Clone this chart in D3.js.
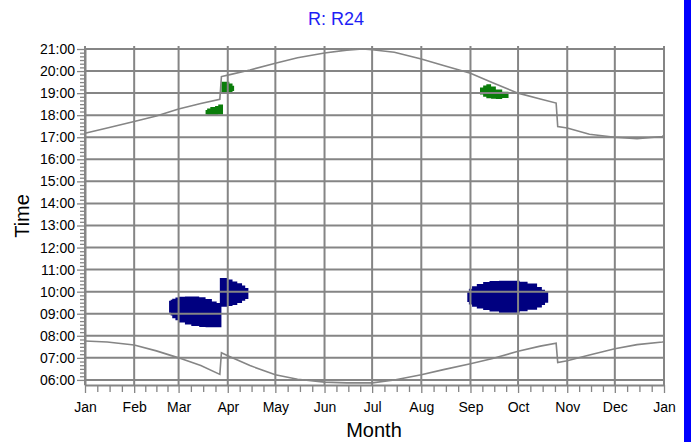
<!DOCTYPE html>
<html>
<head>
    <meta charset="utf-8">
    <title>R: R24</title>
    <script src="https://d3js.org/d3.v7.min.js"></script>
    <style type="text/css">
        body { margin: 0; background: #fff; }
        text { font-family: "Liberation Sans", Arial, sans-serif; }
    </style>
</head>
<body>
    <script type="text/javascript">
        // month tick labels, first one is Jan 1, last one Jan 1 of next year
        let monthLabels = ["Jan", "Feb", "Mar", "Apr", "May", "Jun", "Jul", "Aug", "Sep", "Oct", "Nov", "Dec", "Jan"];
        let hourTicks = [6, 7, 8, 9, 10, 11, 12, 13, 14, 15, 16, 17, 18, 19, 20, 21];

        // upper grey line (sunset) [date, time]
        let sunset = [
            ["2023-01-01", "17:11"], ["2023-01-15", "17:25"], ["2023-02-01", "17:43"], ["2023-02-15", "17:58"],
            ["2023-03-01", "18:17"], ["2023-03-15", "18:32"], ["2023-03-27", "18:43"], ["2023-03-28", "19:45"],
            ["2023-04-01", "19:49"], ["2023-04-15", "20:03"], ["2023-05-01", "20:21"], ["2023-05-15", "20:36"],
            ["2023-06-01", "20:49"], ["2023-06-15", "20:57"], ["2023-06-25", "21:00"], ["2023-07-01", "20:58"],
            ["2023-07-15", "20:51"], ["2023-08-01", "20:33"], ["2023-08-15", "20:15"], ["2023-09-01", "19:54"],
            ["2023-09-15", "19:28"], ["2023-10-01", "19:00"], ["2023-10-15", "18:44"], ["2023-10-25", "18:33"],
            ["2023-10-26", "17:29"], ["2023-11-01", "17:25"], ["2023-11-15", "17:08"], ["2023-12-01", "17:00"],
            ["2023-12-15", "16:56"], ["2023-12-31", "17:02"], ["2024-01-01", "17:05"]
        ];

        // lower grey line (sunrise) [date, time]
        let sunrise = [
            ["2023-01-01", "07:46"], ["2023-01-15", "07:43"], ["2023-02-01", "07:35"], ["2023-02-15", "07:19"],
            ["2023-03-01", "07:00"], ["2023-03-15", "06:39"], ["2023-03-27", "06:15"], ["2023-03-28", "07:14"],
            ["2023-04-01", "07:06"], ["2023-04-15", "06:39"], ["2023-05-01", "06:14"], ["2023-05-15", "06:02"],
            ["2023-06-01", "05:54"], ["2023-06-15", "05:52"], ["2023-07-01", "05:52"], ["2023-07-15", "06:00"],
            ["2023-08-01", "06:14"], ["2023-08-15", "06:28"], ["2023-09-01", "06:44"], ["2023-09-15", "06:58"],
            ["2023-10-01", "07:18"], ["2023-10-15", "07:32"], ["2023-10-25", "07:40"], ["2023-10-26", "06:47"],
            ["2023-11-01", "06:52"], ["2023-11-15", "07:08"], ["2023-12-01", "07:25"], ["2023-12-15", "07:36"],
            ["2023-12-31", "07:43"], ["2024-01-01", "07:44"]
        ];

        // navy patches [from date, low time, high time], last row closes the patch
        let navyMarch = [
            ["2023-02-23", "09:03", "09:35"], ["2023-02-24", "08:55", "09:38"], ["2023-02-25", "08:48", "09:41"],
            ["2023-02-27", "08:42", "09:44"], ["2023-03-01", "08:36", "09:46"], ["2023-03-05", "08:31", "09:47"],
            ["2023-03-09", "08:27", "09:47"], ["2023-03-14", "08:24", "09:45"], ["2023-03-18", "08:23", "09:40"],
            ["2023-03-22", "08:23", "09:33"], ["2023-03-25", "08:23", "09:29"], ["2023-03-28", "08:23", "09:29"]
        ];
        let navyApril = [
            ["2023-03-27", "09:19", "10:37"], ["2023-04-01", "09:21", "10:33"], ["2023-04-04", "09:24", "10:28"],
            ["2023-04-07", "09:29", "10:23"], ["2023-04-10", "09:35", "10:17"], ["2023-04-12", "09:40", "10:10"],
            ["2023-04-14", "09:40", "10:10"]
        ];
        let navySept = [
            ["2023-08-30", "09:32", "10:02"], ["2023-08-31", "09:25", "10:08"], ["2023-09-02", "09:19", "10:15"],
            ["2023-09-05", "09:14", "10:21"], ["2023-09-09", "09:10", "10:26"], ["2023-09-13", "09:06", "10:29"],
            ["2023-09-19", "09:03", "10:30"], ["2023-09-26", "09:03", "10:30"], ["2023-10-02", "09:07", "10:27"],
            ["2023-10-07", "09:11", "10:22"], ["2023-10-13", "09:17", "10:13"], ["2023-10-16", "09:24", "10:05"],
            ["2023-10-18", "09:30", "09:59"], ["2023-10-20", "09:30", "09:59"]
        ];

        // green patches
        let greenMarch = [
            ["2023-03-18", "18:02", "18:14"], ["2023-03-19", "18:01", "18:18"], ["2023-03-21", "18:01", "18:22"],
            ["2023-03-24", "18:01", "18:25"], ["2023-03-26", "18:02", "18:29"], ["2023-03-29", "18:02", "18:29"]
        ];
        let greenApril = [
            ["2023-03-28", "18:59", "19:31"], ["2023-04-02", "19:02", "19:26"], ["2023-04-04", "19:06", "19:20"],
            ["2023-04-05", "19:06", "19:20"]
        ];
        let greenSept = [
            ["2023-09-07", "18:56", "19:15"], ["2023-09-09", "18:50", "19:21"], ["2023-09-11", "18:46", "19:24"],
            ["2023-09-14", "18:45", "19:18"], ["2023-09-17", "18:44", "19:10"], ["2023-09-21", "18:47", "19:04"],
            ["2023-09-25", "18:47", "19:04"]
        ];

        let parseDate = d3.timeParse("%Y-%m-%d");
        function hrs(s) {
            let p = s.split(":");
            return +p[0] + (+p[1]) / 60;
        }

        let width = 691, height = 442;
        let plotLeft = 85, plotRight = 664, plotTop = 49;

        let svg = d3.select("body").append("svg")
            .attr("width", width)
            .attr("height", height);

        let x = d3.scaleTime()
            .domain([parseDate("2023-01-01"), parseDate("2024-01-01")])
            .range([plotLeft, plotRight]);
        let y = d3.scaleLinear()
            .domain([5.77, 21])
            .range([385, plotTop]);

        let grey = "#858585";

        // patches go below the grid
        let patch = d3.area()
            .x(d => x(parseDate(d[0])))
            .y0(d => y(hrs(d[1])))
            .y1(d => y(hrs(d[2])))
            .curve(d3.curveStepAfter);

        [navyMarch, navyApril, navySept].forEach(p => {
            svg.append("path").attr("d", patch(p)).attr("fill", "#000080");
        });
        [greenMarch, greenApril, greenSept].forEach(p => {
            svg.append("path").attr("d", patch(p)).attr("fill", "#0a7d0a");
        });

        // grid
        let monthDates = d3.timeMonth.range(parseDate("2023-01-01"), parseDate("2024-01-02"));
        svg.append("g").selectAll("line")
            .data(hourTicks)
            .join("line")
            .attr("x1", plotLeft).attr("x2", plotRight + 1)
            .attr("y1", d => y(d)).attr("y2", d => y(d))
            .attr("stroke", grey).attr("stroke-width", 2);
        svg.append("g").selectAll("line")
            .data(monthDates)
            .join("line")
            .attr("x1", d => x(d)).attr("x2", d => x(d))
            .attr("y1", plotTop - 3).attr("y2", y(5.77))
            .attr("stroke", grey).attr("stroke-width", 2);

        // x axis
        let minorDates = [];
        monthDates.slice(0, -1).forEach((m, i) => {
            let next = monthDates[i + 1];
            for (let k = 1; k < 4; k++) minorDates.push(new Date(+m + (next - m) * k / 4));
        });
        let xAxis = svg.append("g")
            .attr("transform", "translate(0," + y(5.77) + ")")
            .call(d3.axisBottom(x).tickValues(monthDates).tickSize(8).tickSizeOuter(0)
                .tickFormat((d, i) => monthLabels[i]));
        svg.append("g")
            .attr("transform", "translate(0," + y(5.77) + ")")
            .call(d3.axisBottom(x).tickValues(minorDates).tickSize(7).tickFormat(""))
            .select(".domain").remove();

        // y axis
        let minorHours = [];
        hourTicks.slice(0, -1).forEach(h => {
            for (let k = 1; k < 6; k++) minorHours.push(h + k / 6);
        });
        let yAxis = svg.append("g")
            .attr("transform", "translate(" + plotLeft + ",0)")
            .call(d3.axisLeft(y).tickValues(hourTicks).tickSize(8).tickSizeOuter(0)
                .tickFormat(d => d3.format("02")(d) + ":00"));
        svg.append("g")
            .attr("transform", "translate(" + plotLeft + ",0)")
            .call(d3.axisLeft(y).tickValues(minorHours).tickSize(5).tickFormat(""))
            .select(".domain").remove();

        svg.selectAll(".domain").attr("stroke", grey).attr("stroke-width", 2);
        svg.selectAll(".tick line").attr("stroke", grey).attr("stroke-width", 1.3);
        [xAxis, yAxis].forEach(a => {
            a.attr("font-size", 14).attr("font-family", "'Liberation Sans', Arial, sans-serif");
            a.selectAll(".tick text")
                .attr("fill", "#000")
                .attr("font-size", 14)
                .style("font-size", "14px");
        });
        xAxis.selectAll(".tick text").attr("dy", "1.15em");
        yAxis.selectAll(".tick text").attr("x", -10);

        // the two grey lines
        let line = d3.line()
            .x(d => x(parseDate(d[0])))
            .y(d => y(hrs(d[1])));
        [sunset, sunrise].forEach(s => {
            svg.append("path")
                .attr("d", line(s))
                .attr("fill", "none")
                .attr("stroke", grey)
                .attr("stroke-width", 1.6);
        });

        // titles
        svg.append("text")
            .attr("x", 336).attr("y", 25)
            .attr("text-anchor", "middle")
            .attr("fill", "#1e1ef5")
            .style("font-size", "18px")
            .text("R: R24");
        svg.append("text")
            .attr("x", 374).attr("y", 437)
            .attr("text-anchor", "middle")
            .style("font-size", "20px")
            .text("Month");
        svg.append("text")
            .attr("transform", "translate(29,216) rotate(-90)")
            .attr("text-anchor", "middle")
            .style("font-size", "20px")
            .text("Time");

        // blue frame edge on the right
        svg.append("rect")
            .attr("x", 684).attr("y", 0)
            .attr("width", 7).attr("height", height)
            .attr("fill", "#0000ff");
    </script>
</body>
</html>
